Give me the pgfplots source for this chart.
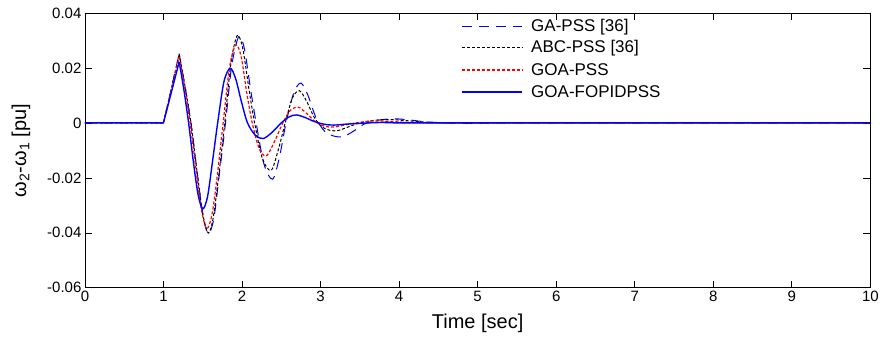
\documentclass[border=0pt]{standalone}
\usepackage{fontspec}
\setmainfont{Liberation Sans}
\usepackage{pgfplots}
\pgfplotsset{compat=1.18}
\begin{document}
\begin{tikzpicture}
\begin{axis}[
  scale only axis, width=786pt, height=275pt,
  xmin=0, xmax=10, ymin=-0.06, ymax=0.04,
  xtick={0,1,...,10}, ytick={-0.06,-0.04,-0.02,0,0.02,0.04},
  tick align=inside, major tick length=7pt,
  xtick pos=both, ytick pos=both,
  axis line style={line width=0.8pt}, every tick/.style={line width=0.6pt, black},
  /pgf/number format/assume math mode=true,
  /pgf/number format/fixed, /pgf/number format/precision=2,
  scaled y ticks=false,
  tick label style={font=\fontsize{15}{15}\selectfont},
  xlabel={Time [sec]}, ylabel={ω\textsubscript{2}-ω\textsubscript{1} [pu]},
  label style={font=\fontsize{20}{20}\selectfont},
  xlabel style={yshift=-5pt}, ylabel style={yshift=10pt},
  clip=false,
]
% initial segments (sharp corner at 1.2)
\addplot[color=blue, line width=0.9pt, dash pattern=on 10pt off 7pt] coordinates {(0,0)(1,0)(1.2,0.0252)};
\addplot[color=black, line width=1pt, dash pattern=on 3pt off 2pt] coordinates {(0,0)(1,0)(1.2,0.0250)};
\addplot[color=red, line width=1.2pt, dash pattern=on 3pt off 2pt] coordinates {(0,0)(1,0)(1.2,0.0240)};
\addplot[color=blue, line width=1.4pt] coordinates {(0,0)(1,0)(1.2,0.0222)};
% GA-PSS
\addplot[color=blue, line width=1pt, dash pattern=on 10pt off 7pt, smooth] coordinates {
(1.2,0.0252)(1.27,0.014)(1.35,0.0)(1.42,-0.016)(1.5,-0.033)(1.57,-0.0403)(1.64,-0.035)(1.71,-0.019)(1.79,0.0)(1.87,0.021)(1.96,0.0315)(2.03,0.027)(2.11,0.012)(2.18,0.0)(2.28,-0.015)(2.39,-0.0205)(2.48,-0.012)(2.56,0.0)(2.66,0.011)(2.75,0.0145)(2.84,0.010)(2.94,0.002)(3.05,-0.003)(3.17,-0.0048)(3.29,-0.0050)(3.42,-0.003)(3.55,-0.0005)(3.7,0.0008)(3.9,0.0015)(4.1,0.0012)(4.3,0.0005)(4.6,0.0)(5.0,-0.0002)(5.5,0.0)(10,0)};
% ABC-PSS
\addplot[color=black, line width=1pt, dash pattern=on 3pt off 2pt, smooth] coordinates {
(1.2,0.0250)(1.27,0.014)(1.35,0.0)(1.42,-0.016)(1.5,-0.033)(1.57,-0.0401)(1.63,-0.035)(1.70,-0.020)(1.78,0.0)(1.86,0.022)(1.94,0.0318)(2.01,0.027)(2.09,0.012)(2.16,0.0)(2.26,-0.013)(2.37,-0.0173)(2.46,-0.010)(2.55,0.0)(2.64,0.009)(2.73,0.0117)(2.82,0.008)(2.92,0.002)(3.02,-0.0015)(3.12,-0.0027)(3.22,-0.0028)(3.35,-0.0015)(3.5,0.0)(3.7,0.0010)(3.9,0.0012)(4.1,0.0008)(4.4,0.0002)(4.8,0)(10,0)};
% GOA-PSS
\addplot[color=red, line width=1.2pt, dash pattern=on 3pt off 2pt, smooth] coordinates {
(1.2,0.0240)(1.27,0.013)(1.34,0.0)(1.41,-0.016)(1.48,-0.031)(1.55,-0.0385)(1.62,-0.033)(1.69,-0.018)(1.76,0.0)(1.84,0.020)(1.92,0.0284)(1.99,0.024)(2.06,0.011)(2.13,0.0)(2.22,-0.0095)(2.31,-0.0120)(2.41,-0.007)(2.52,0.0)(2.62,0.0047)(2.72,0.0057)(2.82,0.0035)(2.93,0.0005)(3.05,-0.0012)(3.17,-0.0015)(3.3,-0.0008)(3.45,0.0)(3.65,0.0007)(3.85,0.0006)(4.1,0.0002)(4.5,0)(10,0)};
% GOA-FOPIDPSS
\addplot[color=blue, line width=1.4pt, smooth] coordinates {
(1.2,0.0222)(1.26,0.012)(1.32,0.0)(1.38,-0.014)(1.44,-0.026)(1.5,-0.0313)(1.56,-0.027)(1.62,-0.015)(1.69,0.0)(1.77,0.015)(1.85,0.0199)(1.92,0.016)(1.99,0.008)(2.07,0.0)(2.17,-0.0045)(2.27,-0.0057)(2.38,-0.0035)(2.5,0.0)(2.6,0.0022)(2.69,0.0029)(2.8,0.0020)(2.92,0.0005)(3.05,-0.0005)(3.17,-0.0008)(3.35,-0.0004)(3.6,0.0)(3.9,0.0002)(4.3,0)(10,0)};
% legend
\draw[blue, line width=1pt, dash pattern=on 10pt off 7pt] (axis description cs:0.480,0.949) -- (axis description cs:0.557,0.949);
\draw[black, line width=1pt, dash pattern=on 3pt off 2pt] (axis description cs:0.480,0.873) -- (axis description cs:0.557,0.873);
\draw[red, line width=1.3pt, dash pattern=on 3pt off 2pt] (axis description cs:0.480,0.793) -- (axis description cs:0.557,0.793);
\draw[blue, line width=1.4pt] (axis description cs:0.480,0.713) -- (axis description cs:0.557,0.713);
\node[anchor=west, inner sep=0pt, font=\fontsize{17}{17}\selectfont] at (axis description cs:0.568,0.949) {GA-PSS [36]};
\node[anchor=west, inner sep=0pt, font=\fontsize{17}{17}\selectfont] at (axis description cs:0.568,0.873) {ABC-PSS [36]};
\node[anchor=west, inner sep=0pt, font=\fontsize{17}{17}\selectfont] at (axis description cs:0.568,0.793) {GOA-PSS};
\node[anchor=west, inner sep=0pt, font=\fontsize{17}{17}\selectfont] at (axis description cs:0.568,0.713) {GOA-FOPIDPSS};
\end{axis}
\path (current axis.south west) ++(-85pt,-55pt) coordinate (bbA);
\path (current axis.north east) ++(11pt,13pt) coordinate (bbB);
\useasboundingbox (bbA) rectangle (bbB);
\end{tikzpicture}
\end{document}
